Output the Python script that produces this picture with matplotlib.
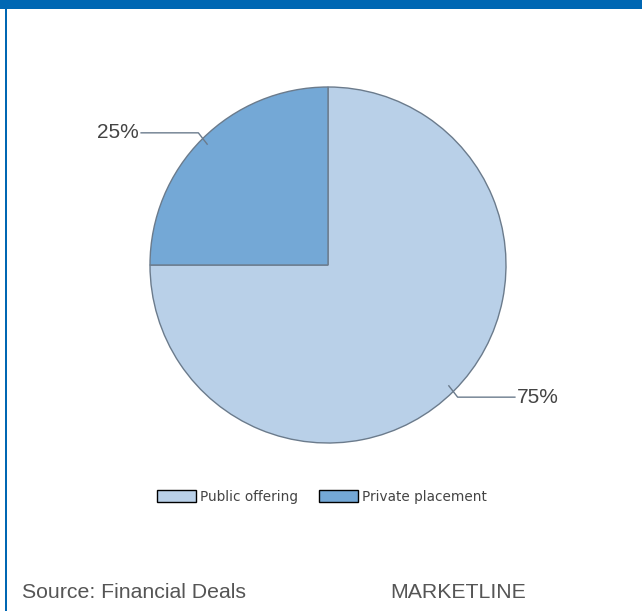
import numpy as np
import matplotlib
matplotlib.use("Agg")
import matplotlib.pyplot as plt
from matplotlib.patches import Rectangle, Patch

labels = ["Public offering", "Private placement"]
shares = [75, 25]
colors = ["#B9D0E8", "#74A8D6"]

W, H = 642, 611
fig = plt.figure(figsize=(W / 100, H / 100), dpi=100)
fig.patch.set_facecolor("white")

# frame: blue banner across the top and a thin line on the left
fig.patches.append(Rectangle((0, 1 - 9 / H), 1, 9 / H, transform=fig.transFigure,
                             facecolor="#0067B3", edgecolor="none"))
fig.patches.append(Rectangle((5 / W, 0), 2 / W, 1 - 9 / H, transform=fig.transFigure,
                             facecolor="#0067B3", edgecolor="none"))

# pie: centre (328, 265) px, radius 178 px
cx, cy, r = 328, 265, 178
ax = fig.add_axes([(cx - r) / W, 1 - (cy + r) / H, 2 * r / W, 2 * r / H])
wedges, _ = ax.pie(shares, colors=colors, startangle=90, counterclock=False,
                   radius=1, wedgeprops=dict(edgecolor="#6B7B8C", linewidth=1))
ax.set_xlim(-1, 1)
ax.set_ylim(-1, 1)
ax.set_aspect("equal")
ax.axis("off")

# leader lines and percentage labels
for w, val in zip(wedges, shares):
    ang = np.deg2rad((w.theta1 + w.theta2) / 2)
    px, py = 0.96 * np.cos(ang), 0.96 * np.sin(ang)
    ex, ey = 1.03 * np.cos(ang), 1.05 * np.sin(ang)
    side = np.sign(np.cos(ang))
    lx = side * 1.05
    ax.plot([px, ex, lx], [py, ey, ey], color="#6B7B8C", lw=1, clip_on=False)
    ax.text(lx + side * 0.012, ey, f"{val}%", ha="left" if side > 0 else "right",
            va="center", fontsize=15, color="#444444", family="Liberation Sans")

# legend
handles = [Patch(facecolor=c, edgecolor="black", linewidth=1) for c in colors]
fig.legend(handles, labels, loc="center", bbox_to_anchor=(322 / W, 1 - 497 / H),
           ncol=2, frameon=False, fontsize=9.8, handlelength=2.8, handleheight=1.0,
           handletextpad=0.3, columnspacing=1.6, labelcolor="#444444")

fig.text(22 / W, 1 - 593 / H, "Source: Financial Deals", fontsize=15.3,
         color="#555555", family="Liberation Sans", va="center", ha="left")
fig.text(390 / W, 1 - 593 / H, "MARKETLINE", fontsize=15.3,
         color="#555555", family="Liberation Sans", va="center", ha="left")

fig.savefig("out.png", dpi=100, facecolor="white")
